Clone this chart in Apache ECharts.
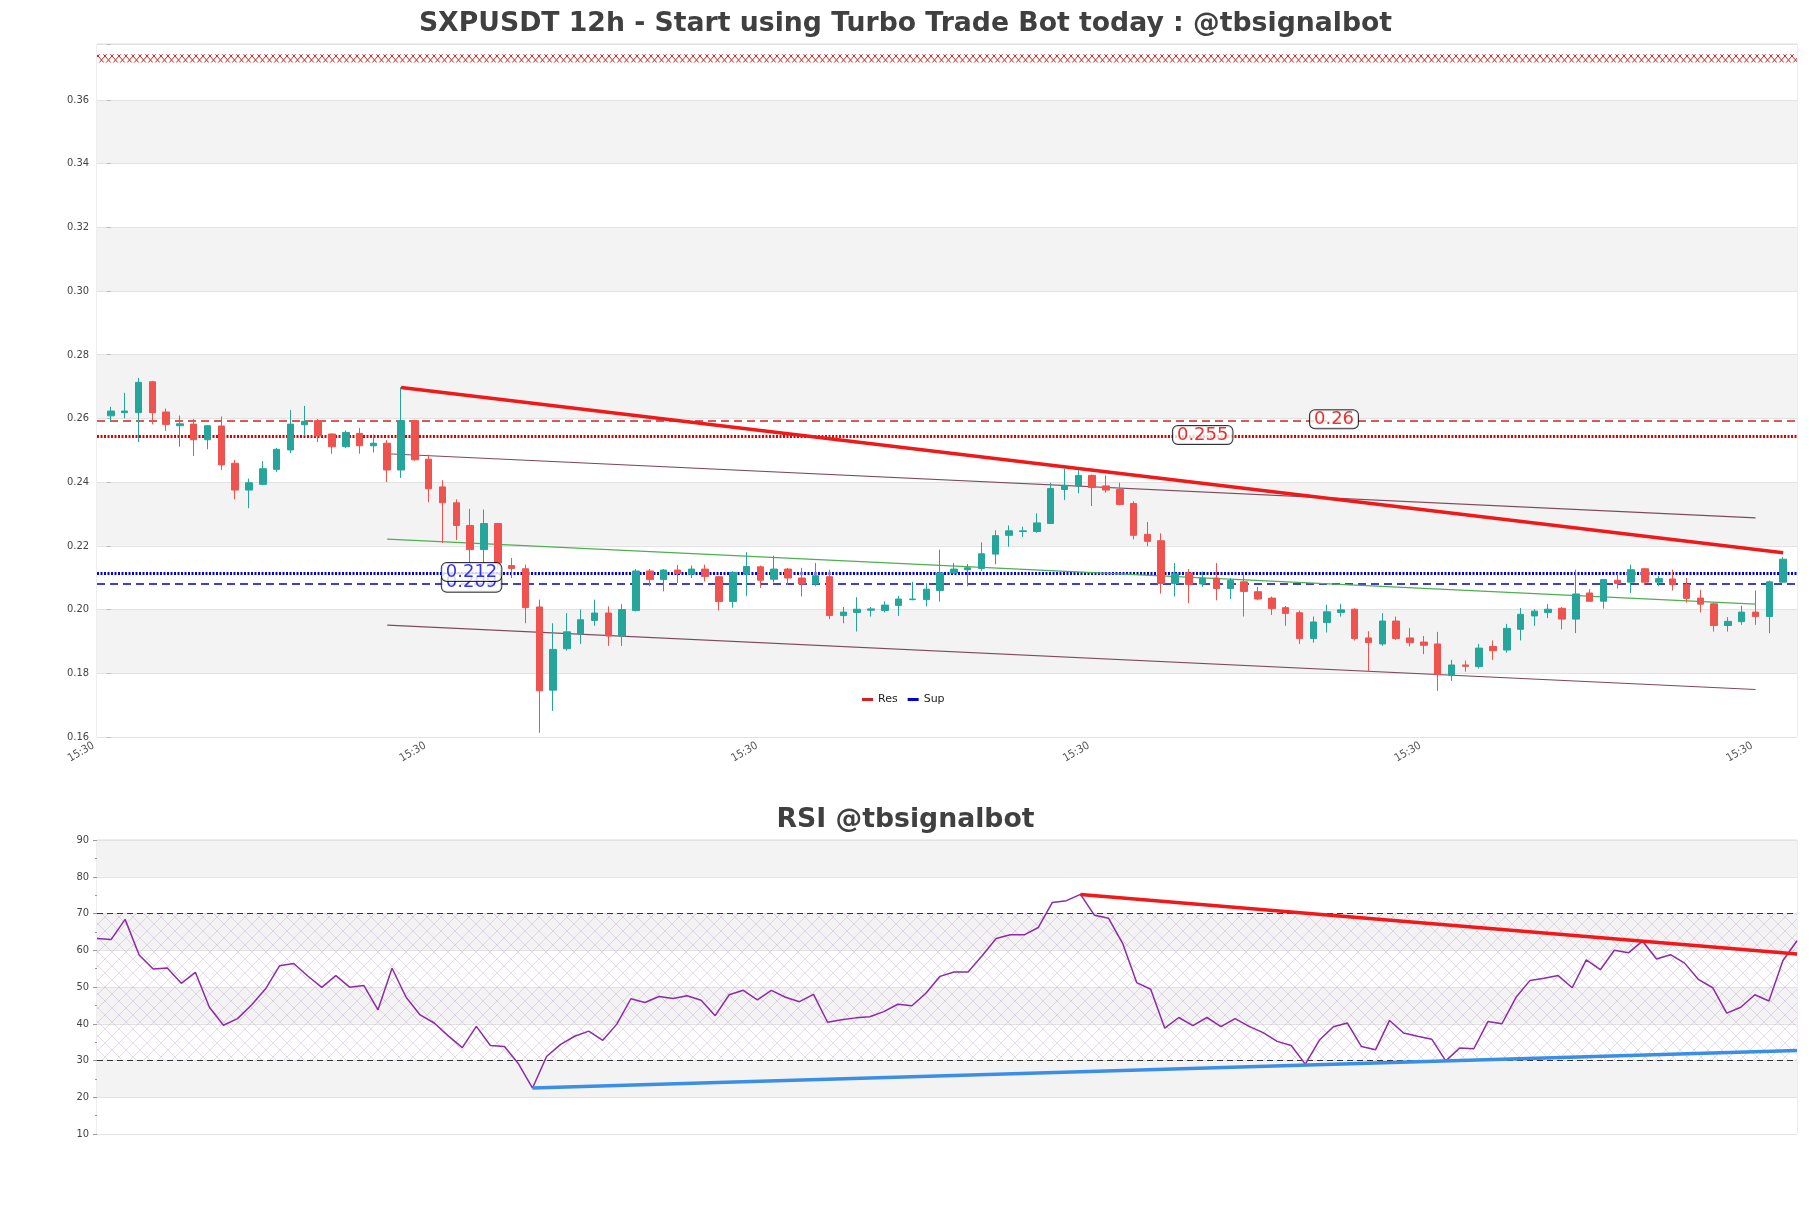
<!DOCTYPE html>
<html><head><meta charset="utf-8">
<script src="https://cdn.jsdelivr.net/npm/echarts@6/dist/echarts.min.js"></script>
<style>html,body{margin:0;padding:0;background:#fff}#c{width:1811px;height:1208px}</style>
</head><body><div id="c"></div>
<script>
// ---------- DATA ----------
const opens = [0.2608,0.2618,0.2618,0.2715,0.2620,0.2577,0.2582,0.2533,0.2576,0.2459,
0.2375,0.2393,0.2440,0.2501,0.2580,0.2593,0.2551,0.2511,0.2553,0.2514,
0.2522,0.2438,0.2593,0.2472,0.2385,0.2335,0.2264,0.2188,0.2270,0.2138,
0.2128,0.2008,0.1747,0.1877,0.1924,0.1966,0.1989,0.1917,0.1997,0.2121,
0.2094,0.2124,0.2111,0.2127,0.2103,0.2025,0.2111,0.2134,0.2095,0.2127,
0.2099,0.2080,0.2103,0.1981,0.1991,0.1998,0.1997,0.2013,0.2031,0.2031,
0.2060,0.2115,0.2125,0.2129,0.2174,0.2233,0.2245,0.2245,0.2270,0.2377,
0.2388,0.2421,0.2388,0.2377,0.2333,0.2236,0.2216,0.2082,0.2115,0.2080,
0.2099,0.2066,0.2087,0.2056,0.2036,0.2006,0.1990,0.1909,0.1959,0.1991,
0.2001,0.1911,0.1892,0.1964,0.1911,0.1898,0.1892,0.1794,0.1826,0.1821,
0.1884,0.1873,0.1938,0.1980,0.1991,0.2004,0.1970,0.2052,0.2026,0.2092,
0.2086,0.2128,0.2086,0.2096,0.2078,0.2036,0.2018,0.1950,0.1962,0.1992,
0.1978,0.2086];
const closes = [0.2623,0.2623,0.2713,0.2618,0.2581,0.2583,0.2533,0.2577,0.2454,0.2375,
0.2398,0.2442,0.2503,0.2582,0.2591,0.2545,0.2511,0.2556,0.2514,0.2522,
0.2438,0.2593,0.2470,0.2379,0.2335,0.2264,0.2188,0.2270,0.2146,0.2129,
0.2006,0.1745,0.1875,0.1930,0.1968,0.1989,0.1917,0.2000,0.2121,0.2094,
0.2124,0.2113,0.2127,0.2104,0.2025,0.2117,0.2135,0.2092,0.2127,0.2099,
0.2080,0.2106,0.1981,0.1992,0.2001,0.2002,0.2014,0.2033,0.2033,0.2064,
0.2115,0.2127,0.2131,0.2175,0.2232,0.2247,0.2247,0.2272,0.2380,0.2390,
0.2421,0.2383,0.2375,0.2330,0.2233,0.2214,0.2082,0.2112,0.2079,0.2098,
0.2066,0.2091,0.2057,0.2033,0.2003,0.1988,0.1909,0.1961,0.1993,0.1999,
0.1909,0.1896,0.1964,0.1909,0.1896,0.1888,0.1796,0.1826,0.1822,0.1879,
0.1871,0.1941,0.1985,0.1995,0.2001,0.1970,0.2049,0.2026,0.2094,0.2082,
0.2125,0.2086,0.2097,0.2078,0.2035,0.2017,0.1950,0.1963,0.1992,0.1978,
0.2087,0.2158];
const highs = [0.2636,0.2680,0.2727,0.2718,0.2631,0.2609,0.2598,0.2579,0.2606,0.2470,
0.2411,0.2466,0.2507,0.2626,0.2639,0.2598,0.2553,0.2562,0.2570,0.2549,
0.2532,0.2698,0.2596,0.2486,0.2406,0.2346,0.2316,0.2314,0.2272,0.2162,
0.2141,0.2031,0.1957,0.1989,0.2000,0.2031,0.2010,0.2017,0.2127,0.2127,
0.2127,0.2140,0.2138,0.2141,0.2106,0.2120,0.2180,0.2138,0.2169,0.2131,
0.2131,0.2146,0.2125,0.2008,0.2039,0.2008,0.2026,0.2043,0.2087,0.2083,
0.2188,0.2146,0.2143,0.2211,0.2249,0.2264,0.2260,0.2302,0.2398,0.2442,
0.2437,0.2424,0.2421,0.2398,0.2340,0.2275,0.2239,0.2146,0.2127,0.2119,
0.2146,0.2099,0.2113,0.2071,0.2041,0.2011,0.1997,0.1978,0.2015,0.2018,
0.2004,0.1932,0.1989,0.1978,0.1942,0.1917,0.1930,0.1842,0.1840,0.1892,
0.1903,0.1955,0.2005,0.2001,0.2017,0.2008,0.2125,0.2064,0.2096,0.2115,
0.2141,0.2131,0.2106,0.2125,0.2099,0.2062,0.2022,0.1976,0.2012,0.2060,
0.2091,0.2165];
const lows = [0.2590,0.2600,0.2526,0.2581,0.2561,0.2511,0.2482,0.2503,0.2438,0.2346,
0.2318,0.2390,0.2432,0.2491,0.2545,0.2526,0.2489,0.2507,0.2489,0.2493,
0.2400,0.2413,0.2467,0.2337,0.2209,0.2218,0.2148,0.2148,0.2125,0.2099,
0.1957,0.1613,0.1682,0.1871,0.1892,0.1949,0.1886,0.1886,0.1994,0.2073,
0.2057,0.2083,0.2099,0.2088,0.1997,0.2006,0.2043,0.2068,0.2085,0.2077,
0.2041,0.2073,0.1970,0.1957,0.1931,0.1978,0.1991,0.1980,0.2029,0.2010,
0.2025,0.2113,0.2073,0.2121,0.2142,0.2197,0.2228,0.2241,0.2270,0.2344,
0.2365,0.2325,0.2367,0.2327,0.2220,0.2199,0.2050,0.2041,0.2020,0.2071,
0.2029,0.2033,0.1978,0.2029,0.1983,0.1949,0.1892,0.1896,0.1928,0.1978,
0.1903,0.1805,0.1886,0.1905,0.1884,0.1860,0.1745,0.1776,0.1805,0.1815,
0.1842,0.1865,0.1903,0.1949,0.1973,0.1938,0.1926,0.2026,0.2003,0.2066,
0.2052,0.2077,0.2073,0.2060,0.2022,0.1991,0.1931,0.1931,0.1952,0.1952,
0.1926,0.2084];
const rsiValues = [63.2,62.9,68.4,58.7,54.9,55.2,51.0,54.0,44.5,39.6,
41.4,45.1,49.5,55.8,56.4,53.0,49.9,53.1,49.9,50.4,
43.8,55.1,47.2,42.4,40.2,36.7,33.5,39.3,34.1,33.8,
29.1,22.5,31.1,34.4,36.6,38.0,35.5,39.9,46.8,45.8,
47.4,46.9,47.6,46.4,42.2,47.9,49.1,46.5,49.1,47.2,
46.0,48.0,40.4,41.1,41.6,41.9,43.3,45.3,44.9,48.3,
52.9,54.1,54.1,58.5,63.2,64.2,64.2,66.2,73.0,73.5,
75.2,69.5,68.7,61.9,51.2,49.4,38.8,41.7,39.5,41.7,
39.2,41.4,39.3,37.6,35.2,34.1,29.0,35.5,39.2,40.2,
33.8,32.9,40.9,37.5,36.6,35.8,29.9,33.4,33.2,40.6,
40.0,47.2,51.8,52.4,53.1,49.8,57.4,54.7,60.0,59.3,
62.5,57.6,58.8,56.5,52.0,49.8,42.9,44.5,47.9,46.2,
57.2,62.6];

const xTickPos = [-1, 23, 47, 71, 95, 119];
const xTickLabels = ['15:30','15:30','15:30','15:30','15:30','15:30'];

const resLevelDashed = 0.2592, resLevelDotted = 0.2543;
const supLevelDotted = 0.2113, supLevelDashed = 0.2080;
const levelLabels = ['0.26','0.255','0.212','0.209'];
const levelLabelX = [88.5, 79.0, 26.1, 26.1];
const levelLabelY = [0.2597, 0.2548, 0.2118, 0.2084];

const resTrend = [[21, 0.2697], [121, 0.2178]];
const channelUpper = [[20, 0.2489], [119, 0.2288]];
const channelMid = [[20, 0.2221], [119, 0.2017]];
const channelLower = [[20, 0.1951], [119, 0.1749]];
const topBand = [0.3717, 0.3743];

const rsiResTrend = [[70, 75.2], [121, 59.0]];
const rsiSupTrend = [[31, 22.5], [121, 32.7]];
const rsiLevels = [70, 30];

// ---------- STYLE HELPERS ----------
function hatch(w, h, color, lw) {
  const c = document.createElement('canvas');
  c.width = w; c.height = h;
  const g = c.getContext('2d');
  g.strokeStyle = color; g.lineWidth = lw;
  g.beginPath();
  g.moveTo(0, 0); g.lineTo(w, h);
  g.moveTo(w, 0); g.lineTo(0, h);
  g.stroke();
  return c;
}
const FONT = "'DejaVu Sans Condensed','DejaVu Sans',sans-serif";
const TFONT = "'DejaVu Sans',sans-serif";
const UP = '#26a69a', DOWN = '#ef5350';

const candleData = opens.map((o, i) => [i, o, closes[i], lows[i], highs[i]]);
const XMIN = -1, XMAX = 122;

function hline(name, y, color, width, type, z) {
  return {name, type:'line', xAxisIndex:0, yAxisIndex:0, data:[[XMIN,y],[XMAX,y]],
    symbol:'none', silent:true, z: z||3,
    itemStyle:{color}, lineStyle:{color, width, type}};
}
function seg(name, pts, color, width, xi, yi, z) {
  return {name, type:'line', xAxisIndex:xi, yAxisIndex:yi, data:pts, symbol:'none', silent:true,
    z: z||4, itemStyle:{color}, lineStyle:{color, width}};
}

const labelColors = ['#e00000','#e00000','#0000ee','#0000ee'];
const labelSeries = levelLabels.map((t, i) => ({
  type:'scatter', xAxisIndex:0, yAxisIndex:0, symbolSize:1, z: 10 - (i===3?1:0),
  itemStyle:{color:'rgba(0,0,0,0)'}, silent:true,
  data:[{value:[levelLabelX[i], levelLabelY[i]], name:t}],
  label:{show:true, position:'inside', formatter:'{b}', fontFamily:TFONT,
    fontSize:18, color:labelColors[i], backgroundColor:'#fff', borderColor:'#000', borderWidth:1,
    borderRadius:5, padding:[0,4,0,4], lineHeight:18}
}));

const chart = echarts.init(document.getElementById('c'), null, {renderer:'canvas'});
chart.setOption({
  animation:false,
  backgroundColor:'#fff',
  title:[
    {text:'SXPUSDT 12h - Start using Turbo Trade Bot today : @tbsignalbot', left:'center', top:6,
      textStyle:{fontFamily:TFONT, fontSize:26.7, fontWeight:'bold', color:'#404040'}},
    {text:'RSI @tbsignalbot', left:'center', top:802,
      textStyle:{fontFamily:TFONT, fontSize:26.7, fontWeight:'bold', color:'#404040'}}
  ],
  legend:{data:['Res','Sup'], left:857, top:689, icon:'rect', itemWidth:11, itemHeight:3, itemGap:10,
    textStyle:{fontFamily:TFONT, fontSize:11, color:'#222'}},
  grid:[
    {left:97, top:44, width:1700, height:693, show:true, borderColor:'#dcdcdc', borderWidth:1, backgroundColor:'transparent'},
    {left:97, top:840, width:1700, height:294, show:true, borderColor:'#dcdcdc', borderWidth:1, backgroundColor:'transparent'}
  ],
  xAxis:[
    {gridIndex:0, type:'value', min:XMIN, max:XMAX, interval:24,
      axisLine:{show:false}, splitLine:{show:false},
      axisTick:{show:false},
      axisLabel:{show:true, customValues:xTickPos, rotate:30, fontFamily:FONT, fontSize:11, color:'#555', margin:6,
        padding:[0,4,0,0],
        formatter:(v)=>{const k=xTickPos.indexOf(Math.round(v)); return k>=0?xTickLabels[k]:'';}}},
    {gridIndex:1, type:'value', min:0, max:rsiValues.length-1,
      axisLine:{show:false}, splitLine:{show:false}, axisTick:{show:false}, axisLabel:{show:false}}
  ],
  yAxis:[
    {gridIndex:0, type:'value', min:0.16, max:0.3775, interval:0.02,
      axisLine:{show:false},
      axisTick:{show:true, length:4, lineStyle:{color:'#bbb'}},
      axisLabel:{fontFamily:FONT, fontSize:11, color:'#444', margin:8,
        formatter:(v)=> (v <= 0.3601 ? v.toFixed(2) : '')},
      splitLine:{show:true, lineStyle:{color:'#e2e2e2', width:1}},
      splitArea:{show:true, areaStyle:{color:['#ffffff','#f3f3f3']}}},
    {gridIndex:1, type:'value', min:10, max:90, interval:10,
      axisLine:{show:false},
      axisTick:{show:true, length:4, lineStyle:{color:'#999'}},
      minorTick:{show:true, splitNumber:2, length:2, lineStyle:{color:'#999'}},
      axisLabel:{fontFamily:FONT, fontSize:11, color:'#444', margin:8},
      splitLine:{show:true, lineStyle:{color:'#e2e2e2', width:1}},
      splitArea:{show:true, areaStyle:{color:['#ffffff','#f3f3f3']}}}
  ],
  series:[
    {name:'band', type:'line', xAxisIndex:0, yAxisIndex:0, data:[], silent:true,
      markArea:{silent:true, itemStyle:{color:{image:hatch(7,8,'#d02020',1), repeat:'repeat'}},
        data:[[{coord:[XMIN, topBand[0]]},{coord:[XMAX, topBand[1]]}]]}},
    hline('Res', resLevelDashed, '#d42020', 1.5, [8,5], 3),
    hline('resDot', resLevelDotted, '#e00000', 3, [2,1.5], 3),
    hline('supDot', supLevelDotted, '#0000dd', 3, [2,1.5], 3),
    hline('Sup', supLevelDashed, '#0000cc', 1.5, [8,5], 3),
    seg('chanU', channelUpper, '#7e4a5e', 1.2, 0, 0, 4),
    seg('chanL', channelLower, '#7e4a5e', 1.2, 0, 0, 4),
    seg('chanM', channelMid, '#4caf50', 1.2, 0, 0, 4),
    {name:'price', type:'candlestick', xAxisIndex:0, yAxisIndex:0, data:candleData, barWidth:7, z:5,
      itemStyle:{color:UP, color0:DOWN, borderColor:UP, borderColor0:DOWN, borderWidth:1}},
    seg('resTrend', resTrend, '#f01818', 3.5, 0, 0, 6),
    ...labelSeries,
    {name:'rsiBand', type:'line', xAxisIndex:1, yAxisIndex:1, data:[], silent:true,
      markArea:{silent:true, itemStyle:{color:{image:hatch(14,14,'rgba(175,140,195,0.4)',0.8), repeat:'repeat'}},
        data:[[{coord:[0, 30]},{coord:[rsiValues.length-1, 70]}]]}},
    {name:'rsi70', type:'line', xAxisIndex:1, yAxisIndex:1, data:[[0,rsiLevels[0]],[rsiValues.length-1,rsiLevels[0]]],
      symbol:'none', silent:true, lineStyle:{color:'#333', width:1, type:[6,4]}},
    {name:'rsi30', type:'line', xAxisIndex:1, yAxisIndex:1, data:[[0,rsiLevels[1]],[rsiValues.length-1,rsiLevels[1]]],
      symbol:'none', silent:true, lineStyle:{color:'#333', width:1, type:[6,4]}},
    {name:'rsi', type:'line', xAxisIndex:1, yAxisIndex:1, data:rsiValues.map((v,i)=>[i,v]), symbol:'none',
      silent:true, z:5, lineStyle:{color:'#8e2aa6', width:1.5}},
    seg('rsiRes', rsiResTrend, '#f01818', 3.5, 1, 1, 6),
    seg('rsiSup', rsiSupTrend, '#3a8ee6', 3.5, 1, 1, 6)
  ]
});
</script>
</body></html>
